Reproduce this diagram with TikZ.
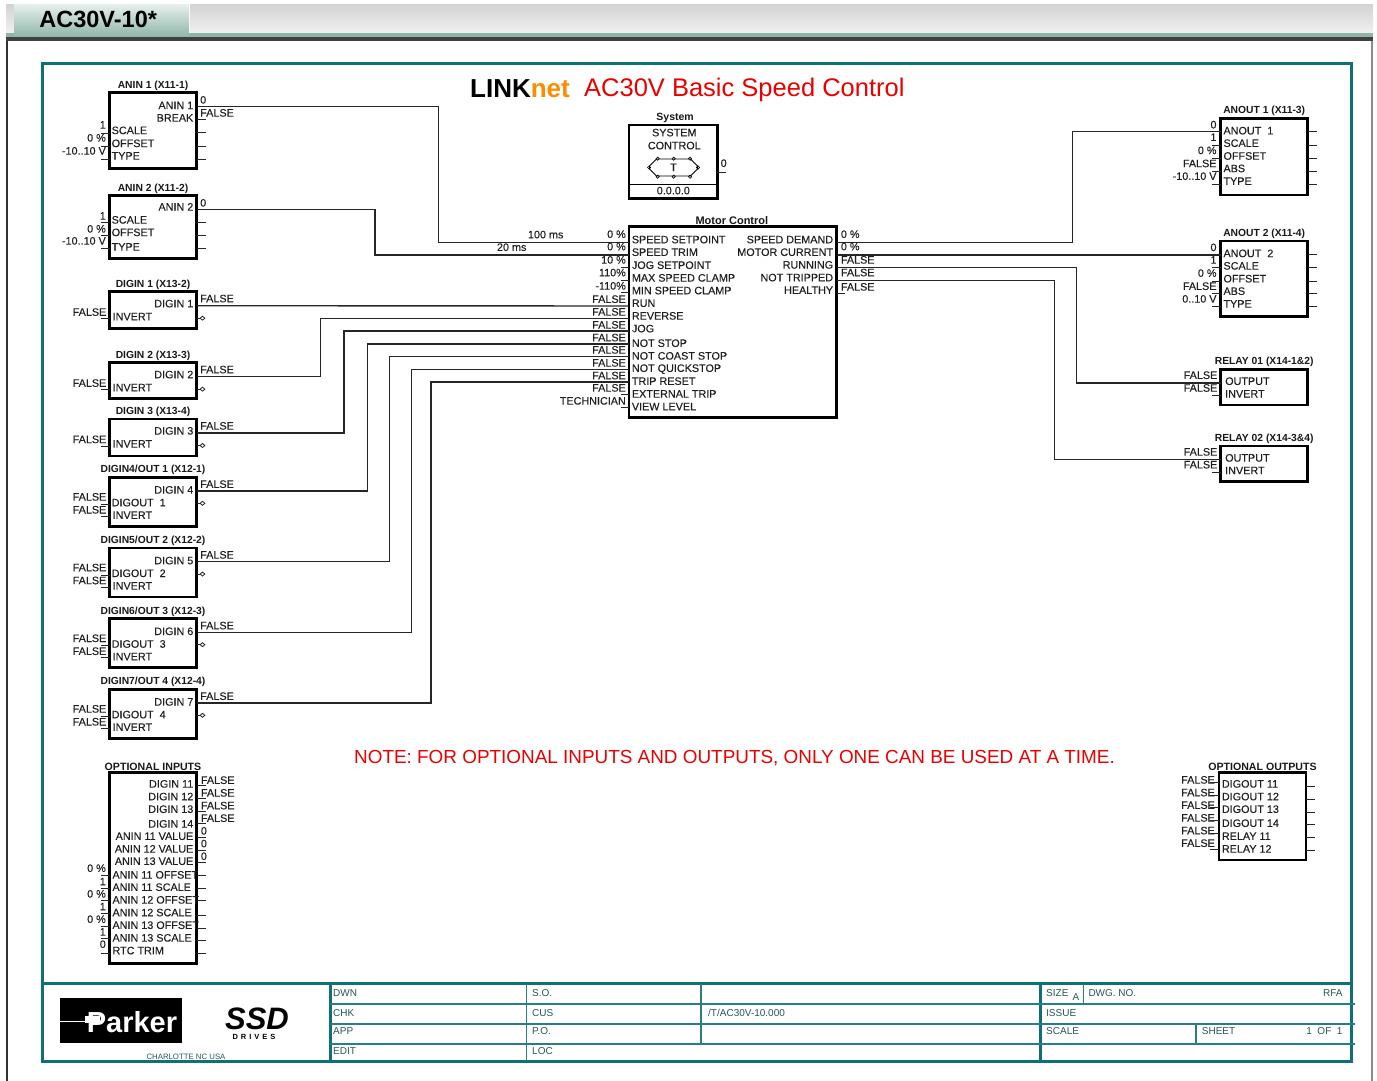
\documentclass[tikz,border=0pt]{standalone}
\usepackage{fontspec}
\setmainfont{Liberation Sans}
\newfontfamily\pinfont[FakeBold=0.2]{Liberation Sans}
\usepackage{xcolor}
\usetikzlibrary{shapes.geometric, shapes.misc, arrows.meta, positioning, calc}
\definecolor{frameteal}{HTML}{0F7078}
\definecolor{celltxt}{HTML}{24565C}
\definecolor{tabtop}{HTML}{E6F0EC}
\definecolor{tabbot}{HTML}{8EB5A9}

\begin{document}
\begin{tikzpicture}[
        x=1pt, y=-1pt,
        block/.style={
            rectangle, draw=black, line width=2.7pt,
            inner sep=0pt, outer sep=0pt, anchor=north west
        },
        pintxt/.style={
            inner sep=0pt, text=black!88, text height=7.2pt, text depth=0pt,
            font=\pinfont\fontsize{10.8}{11}\selectfont
        },
        inl/.style={pintxt, anchor=west},
        inr/.style={pintxt, anchor=east},
        vall/.style={pintxt, anchor=east},
        valr/.style={pintxt, anchor=west},
        blocktitle/.style={
            inner sep=0pt, text=black!90,
            font=\fontsize{10.3}{11}\selectfont\bfseries
        },
        cell/.style={
            inner sep=0pt, anchor=west, text=celltxt,
            text height=7.2pt, text depth=0pt,
            font=\fontsize{10}{11}\selectfont
        },
        wire/.style={line width=1.4pt, black!85},
        stub/.style={line width=1pt, black!85},
        dstub/.style={line width=0.8pt, black!85, -{Diamond[open,length=6pt,width=5pt]}},
        frameln/.style={line width=3pt, frameteal},
        gridln/.style={line width=1.6pt, frameteal!90},
        pinmark/.style={diamond, draw=black, line width=0.6pt, inner sep=0pt, minimum size=3.5pt}
    ]
    \useasboundingbox (0,0) rectangle (1377,1081);

    % window and tab
    \node[inner sep=0pt, anchor=north west, minimum width=1183pt, minimum height=29pt,
        top color=black!17, bottom color=black!6] (tabbar) at (190,4) {};
    \node[inner sep=0pt, anchor=north west, minimum width=8pt, minimum height=29pt,
        top color=black!17, bottom color=black!6] (tableft) at (6,4) {};
    \fill[tabbot] (tableft.south west) rectangle (1373,37);
    \node[inner sep=0pt, anchor=north west, minimum width=175pt, minimum height=33pt,
        top color=tabtop, bottom color=tabbot, text=black,
        font=\fontsize{23.5}{24}\selectfont\bfseries] (tab) at (14,4) {\hspace*{-7pt}\raisebox{3.5pt}{AC30V-10*}};
    \fill[black!75] (6,37.5) rectangle (1373,41.5);
    \fill[black!80] (6,41) rectangle (8,1081);
    \fill[black!45] (1371.3,41) rectangle (1373,1081);

    % drawing frame
    \draw[frameln] (42,64) rectangle (1351.5,1061);

    \node[anchor=west, inner sep=0pt, font=\fontsize{26}{28}\selectfont\bfseries] (headl) at (470,89)
        {LINK\textcolor{orange!90!yellow}{net}};
    \node[anchor=west, inner sep=0pt, text=red!92!black, font=\fontsize{25.5}{28}\selectfont] (headr) at (584,90)
        {AC30V Basic Speed Control};
    \node[anchor=west, inner sep=0pt, text=red!92!black, font=\fontsize{18.9}{20}\selectfont] (note) at (354,758)
        {NOTE: FOR OPTIONAL INPUTS AND OUTPUTS, ONLY ONE CAN BE USED AT A TIME.};

    % analog inputs
    \node[block, minimum width=87pt, minimum height=76pt] (anin1) at (109.5,92.5) {};
    \node[blocktitle, above=2pt of anin1] (anin1t) {ANIN 1 (X11-1)};
    \node[inr] (anin1o) at (193.5,105.5) {ANIN 1};
    \node[inr] (anin1b) at (193.5,118) {BREAK};
    \node[valr] (anin1v) at (200,100) {0};
    \node[valr] (anin1f) at (200,113) {FALSE};
    \foreach \y/\txt [count=\i] in {130.5/SCALE,143.5/OFFSET,156/TYPE}
        \node[inl] (anin1l\i) at (111.5,\y) {\txt};
    \foreach \y/\txt [count=\i] in {125/1,138/0 \%,151/{-10..10 V}}
        \node[vall] (anin1a\i) at (106,\y) {\txt};
    \foreach \y in {133,146,159} \draw[stub] (anin1.west |- 0,\y) -- ++(-9,0);
    \foreach \y in {119,132,146,159} \draw[stub] (anin1.east |- 0,\y) -- ++(9,0);
    \coordinate (anin1p) at (196.5,106.5);

    \node[block, minimum width=87pt, minimum height=62.5pt] (anin2) at (109.5,195.7) {};
    \node[blocktitle, above=2pt of anin2] (anin2t) {ANIN 2 (X11-2)};
    \node[inr] (anin2o) at (193.5,207) {ANIN 2};
    \node[valr] (anin2v) at (200,203) {0};
    \foreach \y/\txt [count=\i] in {220/SCALE,232.5/OFFSET,247/TYPE}
        \node[inl] (anin2l\i) at (111.5,\y) {\txt};
    \foreach \y/\txt [count=\i] in {216/1,229/0 \%,241/{-10..10 V}}
        \node[vall] (anin2a\i) at (106,\y) {\txt};
    \foreach \y in {222,235,248} {
        \draw[stub] (anin2.west |- 0,\y) -- ++(-9,0);
        \draw[stub] (anin2.east |- 0,\y) -- ++(9,0);
    }
    \coordinate (anin2p) at (196.5,209.5);

    % digital inputs 1 to 3
    \foreach \n/\ty/\hh/\ttl in {1/291.7/37/DIGIN 1 (X13-2),2/362.7/36/DIGIN 2 (X13-3),3/419/37/DIGIN 3 (X13-4)} {
        \node[block, minimum width=87pt, minimum height=\hh pt] (digin\n) at (109.5,\ty) {};
        \node[blocktitle, above=2pt of digin\n] (digin\n t) {\ttl};
        \node[inr] (digin\n o) at (193.5,\ty+12) {DIGIN \n};
        \node[inl] (digin\n i) at (112.5,\ty+25) {INVERT};
        \node[valr] (digin\n f) at (200,\ty+7) {FALSE};
        \node[vall] (digin\n a) at (106.5,\ty+20.5) {FALSE};
        \draw[stub] (digin\n.west |- 0,\ty+27) -- ++(-9,0);
        \draw[dstub] (digin\n.east |- 0,\ty+26.5) -- ++(9,0);
        \coordinate (digin\n p) at (196.5,\ty+14);
    }

    % digital in/outs 4 to 7
    \foreach \n/\m/\ty/\ttl in {4/1/477.3/{DIGIN4/OUT 1 (X12-1)},5/2/548/{DIGIN5/OUT 2 (X12-2)},
            6/3/618.7/{DIGIN6/OUT 3 (X12-3)},7/4/689.3/{DIGIN7/OUT 4 (X12-4)}} {
        \node[block, minimum width=87pt, minimum height=49pt] (digin\n) at (109.5,\ty) {};
        \node[blocktitle, above=2pt of digin\n] (digin\n t) {\ttl};
        \node[inr] (digin\n o) at (193.5,\ty+12.7) {DIGIN \n};
        \node[inl] (digin\n d) at (111.5,\ty+25.4) {DIGOUT \ \m};
        \node[inl] (digin\n i) at (112.5,\ty+38) {INVERT};
        \node[valr] (digin\n f) at (200,\ty+7) {FALSE};
        \node[vall] (digin\n a) at (106.5,\ty+19.7) {FALSE};
        \node[vall] (digin\n b) at (106.5,\ty+32.6) {FALSE};
        \draw[stub] (digin\n.west |- 0,\ty+27) -- ++(-9,0);
        \draw[stub] (digin\n.west |- 0,\ty+39) -- ++(-9,0);
        \draw[dstub] (digin\n.east |- 0,\ty+26) -- ++(9,0);
        \coordinate (digin\n p) at (196.5,\ty+13.6);
    }

    % optional inputs
    \node[block, minimum width=87pt, minimum height=190.6pt] (optin) at (109.5,772.7) {};
    \node[blocktitle, above=2pt of optin, font=\fontsize{10.6}{11}\selectfont\bfseries] (optint) {OPTIONAL INPUTS};
    \foreach \y/\txt [count=\i] in {784/DIGIN 11,796.7/DIGIN 12,809.3/DIGIN 13,824/DIGIN 14,
            836.3/ANIN 11 VALUE,849/ANIN 12 VALUE,861.3/ANIN 13 VALUE}
        \node[inr] (optinr\i) at (193.5,\y) {\txt};
    \foreach \y/\txt [count=\i] in {875/ANIN 11 OFFSET,887.3/ANIN 11 SCALE,900/ANIN 12 OFFSET,912.7/ANIN 12 SCALE,
            925.3/ANIN 13 OFFSET,938/ANIN 13 SCALE,950.7/RTC TRIM}
        \node[inl] (optinl\i) at (112.3,\y) {\txt};
    \foreach \y/\txt [count=\i] in {780.3/FALSE,793/FALSE,805.7/FALSE,818.3/FALSE,831/0,843.7/0,856.3/0}
        \node[valr] (optinv\i) at (200.7,\y) {\txt};
    \foreach \y/\txt [count=\i] in {868.3/0 \%,881.7/1,894/0 \%,906.7/1,919.3/0 \%,932/1,944.3/0}
        \node[vall] (optina\i) at (106,\y) {\txt};
    \foreach \y in {785.7,798,811,823.7,837,850,862.7,875.3,888,900.7,915,928,940.7,953.3}
        \draw[stub] (optin.east |- 0,\y) -- ++(9,0);
    \foreach \y in {875.3,888,900.7,913.3,926,938.7,953}
        \draw[stub] (optin.west |- 0,\y) -- ++(-9,0);

    % system block
    \node[block, minimum width=88.3pt, minimum height=73.3pt] (sys) at (629,125) {};
    \node[blocktitle, above=2pt of sys, font=\fontsize{10.5}{11}\selectfont\bfseries, xshift=2pt] (syst) {System};
    \node[pintxt] (sysa) at (674.3,132.7) {SYSTEM};
    \node[pintxt] (sysb) at (674.3,145.7) {CONTROL};
    \node[pintxt] (sysver) at (673.3,190.7) {0.0.0.0};
    \draw[line width=1pt, black] (sys.west |- 0,184.3) -- (sys.east |- 0,184.3);
    \node[chamfered rectangle, draw=black, line width=0.9pt, inner sep=0pt, minimum width=48pt, minimum height=17pt,
        chamfered rectangle xsep=5pt, chamfered rectangle ysep=5pt, pintxt] (sysicon) at (673.5,167.5) {T};
    \foreach \x [count=\i] in {657.7,673.7,690} {
        \node[pinmark] (sysu\i) at (\x,158.7) {};
        \node[pinmark] (sysd\i) at (\x,176.7) {};
    }
    \node[pinmark] (sysw) at (sysicon.west) {};
    \node[pinmark] (syse) at (sysicon.east) {};
    \node[valr] (sysv) at (720.5,163.3) {0};
    \draw[stub] (sys.east |- 0,172) -- ++(9,0);

    % motor control
    \node[block, minimum width=207.7pt, minimum height=191pt] (mc) at (629,226.7) {};
    \node[blocktitle, above=2pt of mc, xshift=-1pt, font=\fontsize{11}{11}\selectfont\bfseries] (mct) {Motor Control};
    \foreach \y/\txt [count=\i] in {239.7/SPEED SETPOINT,252.3/SPEED TRIM,265.3/JOG SETPOINT,278/MAX SPEED CLAMP,
            290.7/MIN SPEED CLAMP,303.3/RUN,316/REVERSE,328.7/JOG,343.3/NOT STOP,356/NOT COAST STOP,
            368.3/NOT QUICKSTOP,381.3/TRIP RESET,394/EXTERNAL TRIP,406.7/VIEW LEVEL}
        \node[inl] (mcl\i) at (631.7,\y) {\txt};
    \foreach \y/\txt [count=\i] in {239.7/SPEED DEMAND,252.3/MOTOR CURRENT,265/RUNNING,277.7/NOT TRIPPED,290.3/HEALTHY}
        \node[inr] (mcr\i) at (833.3,\y) {\txt};
    \foreach \y/\txt [count=\i] in {234.3/0 \%,246.7/0 \%,260/10 \%,272.7/110\%,286/-110\%,299.3/FALSE,312/FALSE,325/FALSE,
            337.7/FALSE,350/FALSE,363/FALSE,375.7/FALSE,388/FALSE,401/TECHNICIAN}
        \node[vall] (mca\i) at (626,\y) {\txt};
    \foreach \y/\txt [count=\i] in {234.3/0 \%,246.7/0 \%,260/FALSE,272.7/FALSE,287/FALSE}
        \node[valr] (mcv\i) at (840.7,\y) {\txt};
    \node[vall, anchor=center] (mcdelay1) at (545.7,234.7) {100 ms};
    \node[vall, anchor=center] (mcdelay2) at (511.7,247.3) {20 ms};
    \foreach \y in {267.7,280,292.7,394.7,407.3} \draw[stub] (mc.west |- 0,\y) -- ++(-8.5,0);
    \draw[stub] (mc.east |- 0,293) -- ++(8.5,0);
    \foreach \y/\p in {242.3/a,255/b,306/c,318.3/d,331/e,344/f,356.3/g,369.3/h,382/k}
        \coordinate (mcin\p) at (629,\y);
    \foreach \y/\p in {242.3/a,255/b,267.7/c,280.3/d}
        \coordinate (mcout\p) at (836.7,\y);

    % analog outputs
    \foreach \n/\ty/\hh/\ttl/\rng in {1/118.3/76.7/ANOUT 1 (X11-3)/{-10..10 V},2/241/75.7/ANOUT 2 (X11-4)/{0..10 V}} {
        \node[block, minimum width=87pt, minimum height=\hh pt] (anout\n) at (1220.7,\ty) {};
        \node[blocktitle, above=2pt of anout\n] (anout\n t) {\ttl};
        \foreach \dd/\txt [count=\i] in {12.5/ANOUT \ \n,25/SCALE,37.8/OFFSET,50.3/ABS,63/TYPE}
            \node[inl] (anout\n l\i) at (1223.3,\ty+\dd) {\txt};
        \foreach \dd/\txt [count=\i] in {6.5/0,19/1,32.2/0 \%,45.3/FALSE,58/\rng}
            \node[vall] (anout\n a\i) at (1216.7,\ty+\dd) {\txt};
        \foreach \dd in {13.5,26.7,40,52.7,65.7} \draw[stub] (anout\n.east |- 0,\ty+\dd) -- ++(9,0);
        \foreach \dd in {13.5,26.7,40,52.7,65.7} \draw[stub] (anout\n.west |- 0,\ty+\dd) -- ++(-9,0);
    }
    \coordinate (anout1p) at (1220.7,131.7);
    \coordinate (anout2p) at (1220.7,255);

    % relays
    \foreach \n/\ty/\ttl in {1/369.3/RELAY 01 (X14-1\&2),2/446/RELAY 02 (X14-3\&4)} {
        \node[block, minimum width=87pt, minimum height=35.7pt] (relay\n) at (1220.7,\ty) {};
        \node[blocktitle, above=2pt of relay\n] (relay\n t) {\ttl};
        \node[inl] (relay\n o) at (1225,\ty+12) {OUTPUT};
        \node[inl] (relay\n i) at (1225,\ty+24.6) {INVERT};
        \node[vall] (relay\n a) at (1217.5,\ty+6) {FALSE};
        \node[vall] (relay\n b) at (1217.5,\ty+18.8) {FALSE};
        \draw[stub] (relay\n.west |- 0,\ty+26) -- ++(-9,0);
        \coordinate (relay\n p) at (1220.7,\ty+13.5);
    }

    % optional outputs
    \node[block, minimum width=87pt, minimum height=87.3pt] (optout) at (1219,772.7) {};
    \node[blocktitle, above=2pt of optout, font=\fontsize{10.6}{11}\selectfont\bfseries] (optoutt) {OPTIONAL OUTPUTS};
    \foreach \y/\txt [count=\i] in {784/DIGOUT 11,796.7/DIGOUT 12,809.3/DIGOUT 13,823.3/DIGOUT 14,836.3/RELAY 11,849/RELAY 12}
        \node[inl] (optoutl\i) at (1221.7,\y) {\txt};
    \foreach \y [count=\i] in {780,792.7,805.3,818,830.7,843.3}
        \node[vall] (optouta\i) at (1215,\y) {FALSE};
    \foreach \y in {782.3,795,807.7,820.3,833.3,849} \draw[stub] (optout.west |- 0,\y) -- ++(-9,0);
    \foreach \y in {786.7,799.3,812,824.3,837.3,850} \draw[stub] (optout.east |- 0,\y) -- ++(9,0);

    % wiring
    \draw[wire] (anin1p) -- ++(241.8,0) |- (mcina);
    \draw[wire] (anin2p) -- ++(178.5,0) |- (mcinb);
    \draw[wire] (digin1p) -- (mcinc);
    \draw[wire] (digin2p) -- ++(124,0) |- (mcind);
    \draw[wire] (digin3p) -- ++(147.5,0) |- (mcine);
    \draw[wire] (digin4p) -- ++(171,0) |- (mcinf);
    \draw[wire] (digin5p) -- ++(193.2,0) |- (mcing);
    \draw[wire] (digin6p) -- ++(214.8,0) |- (mcinh);
    \draw[wire] (digin7p) -- ++(234.5,0) |- (mcink);
    \draw[wire] (mcouta) -- ++(235.8,0) |- (anout1p);
    \draw[wire] (mcoutb) -- (anout2p);
    \draw[wire] (mcoutc) -- ++(239.6,0) |- (relay1p);
    \draw[wire] (mcoutd) -- ++(218,0) |- (relay2p);

    % title block
    \draw[frameln] (42,983.5) -- (1351.5,983.5);
    \draw[frameln] (330,983.5) -- (330,1061);
    \draw[frameln] (1040,983.5) -- (1040,1061);
    \draw[gridln] (526.5,983.5) -- (526.5,1061);
    \draw[gridln] (701,983.5) -- (701,1044);
    \draw[gridln] (1083.3,983.5) -- (1083.3,1004);
    \draw[gridln] (1196,1024) -- (1196,1044);
    \foreach \y in {1004,1024,1044} \draw[gridln] (330,\y) -- (1355,\y);
    \foreach \y/\txt [count=\i] in {992.7/DWN,1012.7/CHK,1031/APP,1051/EDIT}
        \node[cell] (cella\i) at (333,\y) {\txt};
    \foreach \y/\txt [count=\i] in {992.7/S.O.,1012.7/CUS,1031/P.O.,1051/LOC}
        \node[cell] (cellb\i) at (532,\y) {\txt};
    \node[cell] (cellpath) at (708,1012.7) {/T/AC30V-10.000};
    \node[cell] (cellsize) at (1046,992.7) {SIZE};
    \node[cell] (cellszv) at (1072.5,996.5) {A};
    \node[cell] (celldwg) at (1088.3,992.7) {DWG. NO.};
    \node[cell, anchor=east] (cellrfa) at (1342.7,992.7) {RFA};
    \node[cell] (cellissue) at (1046,1012.7) {ISSUE};
    \node[cell] (cellscale) at (1046,1030.7) {SCALE};
    \node[cell] (cellsheet) at (1201.7,1030.7) {SHEET};
    \node[cell, anchor=east] (cellof) at (1342.7,1030.7) {1 \ OF \ 1};

    % logos
    \node[fill=black, inner sep=0pt, anchor=north west, minimum width=122pt, minimum height=45.5pt] (parker) at (60,997.7) {};
    \node[inner sep=0pt, text=white, font=\fontsize{29}{30}\selectfont\bfseries] (parkertxt) at (132,1022) {Parker};
    \fill[white] (60,1020.5) rectangle (100,1022);
    \fill[white] (85,1016) rectangle (100,1023);
    \node[inner sep=0pt, text=black, text height=23pt, text depth=0pt,
        font=\fontsize{31}{32}\selectfont\bfseries\itshape] (ssd) at (257,1017.5) {SSD};
    \node[inner sep=0pt, text=black, font=\fontsize{7.5}{8}\selectfont\bfseries] (ssdsub) at (254,1037) {D\hspace{3pt}R\hspace{3pt}I\hspace{3pt}V\hspace{3pt}E\hspace{3pt}S};
    \node[inner sep=0pt, text=celltxt, font=\fontsize{7.8}{8}\selectfont] (city) at (186,1056.5) {CHARLOTTE NC USA};
    \end{tikzpicture}
\end{document}
